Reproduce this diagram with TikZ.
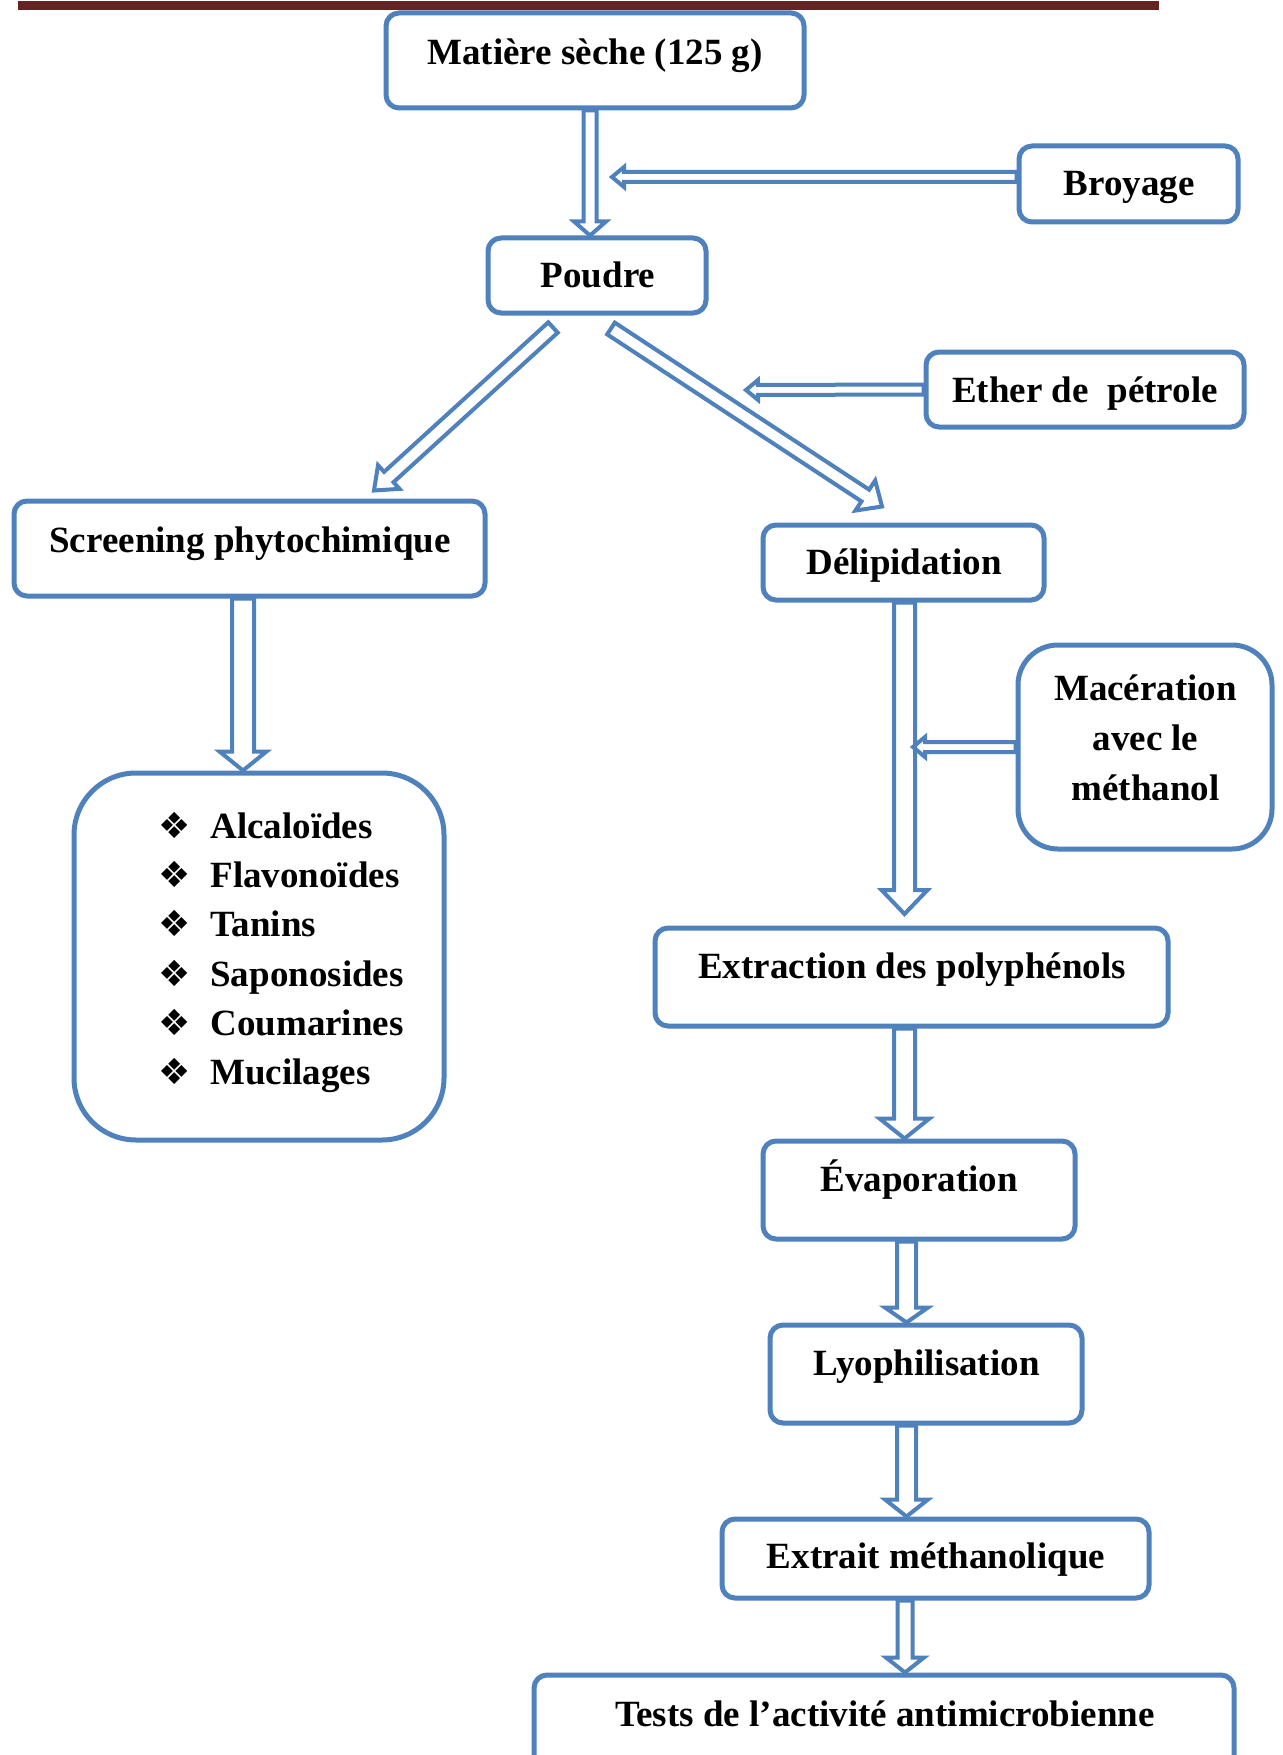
\documentclass[tikz,border=0pt]{standalone}
\usepackage{fontspec}
\setmainfont{Liberation Serif}
\newfontfamily\dejavu{DejaVu Sans}
\usetikzlibrary{calc}
\definecolor{bblue}{HTML}{4F81BD}
\definecolor{dred}{HTML}{632423}
% block (hollow) arrow: [opts]{from}{to}{shaft half}{head half}{head length}
\newcommand\blkarrow[6][]{%
  \coordinate (hb) at ($(#3)!#6!(#2)$);
  \draw[arrowline,#1] ($(#2)!#4!90:(#3)$) -- ($(hb)!#4!-90:(#2)$) -- ($(hb)!#5!-90:(#2)$)
    -- (#3) -- ($(hb)!#5!90:(#2)$) -- ($(hb)!#4!90:(#2)$) -- ($(#2)!#4!-90:(#3)$) -- cycle;}
\begin{document}
\begin{tikzpicture}[x=0.5pt,y=-0.5pt,
  font=\bfseries\fontsize{18.5}{25}\selectfont,
  box/.style={draw=bblue, line width=2.5pt, rounded corners=6.5pt, inner sep=0pt},
  txt/.style={inner sep=0pt, align=center},
  arrowline/.style={draw=bblue, line width=2pt, line join=miter},
  bul/.style={inner sep=0pt, anchor=base east, font=\dejavu\fontsize{18}{18}\selectfont},
  item/.style={inner sep=0pt, anchor=base west}]
\fill[white] (0,0) rectangle (1282,1755);
\useasboundingbox (0,0) rectangle (1282,1755);
\fill[dred] (18,1) rectangle (1159,10);

% boxes
\node[box, minimum width=209pt, minimum height=47.5pt] (mat) at (595,60.5) {};
\node[box, minimum width=109.5pt, minimum height=38pt] (broy) at (1128.5,184) {};
\node[box, minimum width=109pt, minimum height=37.5pt] (poudre) at (597,275.5) {};
\node[box, minimum width=159pt, minimum height=37.5pt] (ether) at (1085,389.5) {};
\node[box, minimum width=235.5pt, minimum height=47.5pt] (screen) at (249.5,548.5) {};
\node[box, minimum width=140.5pt, minimum height=37.5pt] (delip) at (903.5,562.5) {};
\node[box, rounded corners=20pt, minimum width=127pt, minimum height=102pt] (mac) at (1145,747) {};
\node[box, rounded corners=31pt, minimum width=185pt, minimum height=183.5pt] (list) at (259,956.5) {};
\node[box, minimum width=256.5pt, minimum height=49pt] (extr) at (911.5,977) {};
\node[box, minimum width=156pt, minimum height=49pt] (evap) at (919,1190) {};
\node[box, minimum width=156pt, minimum height=49pt] (lyo) at (926,1374) {};
\node[box, minimum width=213.5pt, minimum height=39.5pt] (extrait) at (935.5,1558.5) {};
\node[box, minimum width=350pt, minimum height=60pt] (tests) at (884,1735) {};

% texts
\node[txt] (matT) at (595,56) {Matière sèche (125 g)};
\node[txt] (broyT) at (1129,187.5) {Broyage};
\node[txt] (poudreT) at (598,275) {Poudre};
\node[txt] (etherT) at (1085,393.5) {Ether de\ \ pétrole};
\node[txt] (screenT) at (250,543.5) {Screening phytochimique};
\node[txt] (delipT) at (904,565.5) {Délipidation};
\node[txt] (macT) at (1145.5,738) {Macération\\avec le\\méthanol};
\node[txt] (extrT) at (912,969.5) {Extraction des polyphénols};
\node[txt] (evapT) at (919,1180) {Évaporation};
\node[txt] (lyoT) at (926.5,1366.5) {Lyophilisation};
\node[txt] (extraitT) at (936,1559.5) {Extrait méthanolique};
\node[txt] (testsT) at (885,1714) {Tests de l’activité antimicrobienne};

% list items
\node[bul] (b1) at (191,838) {❖};   \node[item] (i1) at (210,838) {Alcaloïdes};
\node[bul] (b2) at (191,887.5) {❖}; \node[item] (i2) at (210,887.5) {Flavonoïdes};
\node[bul] (b3) at (191,936.7) {❖}; \node[item] (i3) at (210,936.7) {Tanins};
\node[bul] (b4) at (191,986) {❖};   \node[item] (i4) at (210,986) {Saponosides};
\node[bul] (b5) at (191,1035) {❖};  \node[item] (i5) at (210,1035) {Coumarines};
\node[bul] (b6) at (191,1084) {❖};  \node[item] (i6) at (210,1084) {Mucilages};

% connector end points
\coordinate (s1) at ($(mat.south)+(-5,0)$);
\coordinate (e1) at (s1 |- poudre.north);
\coordinate (s2) at ($(broy.west)+(0,-7)$);
\coordinate (e2) at (612,177);
\coordinate (s3) at ($(poudre.south)+(-44,12)$);
\coordinate (e3) at ($(screen.north)+(124.5,-8)$);
\coordinate (s4) at ($(poudre.south)+(14,13)$);
\coordinate (e4) at ($(delip.north)+(-21.5,-16)$);
\coordinate (s5) at (ether.west);
\coordinate (e5) at (746,390);
\coordinate (s6) at ($(screen.south)+(-6.5,0)$);
\coordinate (e6) at (s6 |- list.north);
\coordinate (s7) at ($(delip.south)+(1,0)$);
\coordinate (e7) at (904.5,914);
\coordinate (s8) at (mac.west);
\coordinate (e8) at (913,747);
\coordinate (s9) at ($(extr.south)+(-7,0)$);
\coordinate (e9) at (s9 |- evap.north);
\coordinate (s10) at ($(evap.south)+(-12.5,0)$);
\coordinate (e10) at (s10 |- lyo.north);
\coordinate (s11) at ($(lyo.south)+(-19.5,0)$);
\coordinate (e11) at (s11 |- extrait.north);
\coordinate (s12) at ($(extrait.south)+(-30.5,0)$);
\coordinate (e12) at (s12 |- tests.north);

% arrows
\blkarrow{s1}{e1}{3.25pt}{8pt}{7pt}
\blkarrow{s2}{e2}{2.5pt}{5pt}{6pt}
\blkarrow{s3}{e3}{3.5pt}{8pt}{10pt}
\blkarrow{s4}{e4}{3.5pt}{9pt}{10pt}
\blkarrow{s5}{e5}{2.5pt}{5pt}{6pt}
\blkarrow{s6}{e6}{5.5pt}{11.75pt}{9.5pt}
\blkarrow{s7}{e7}{5.25pt}{11.5pt}{12pt}
\blkarrow{s8}{e8}{2.5pt}{5pt}{6pt}
\blkarrow{s9}{e9}{5.25pt}{12.5pt}{10pt}
\blkarrow{s10}{e10}{4.75pt}{10.75pt}{7.5pt}
\blkarrow{s11}{e11}{4.75pt}{10.75pt}{8.5pt}
\blkarrow{s12}{e12}{3.75pt}{9.5pt}{7.5pt}
\end{tikzpicture}
\end{document}
